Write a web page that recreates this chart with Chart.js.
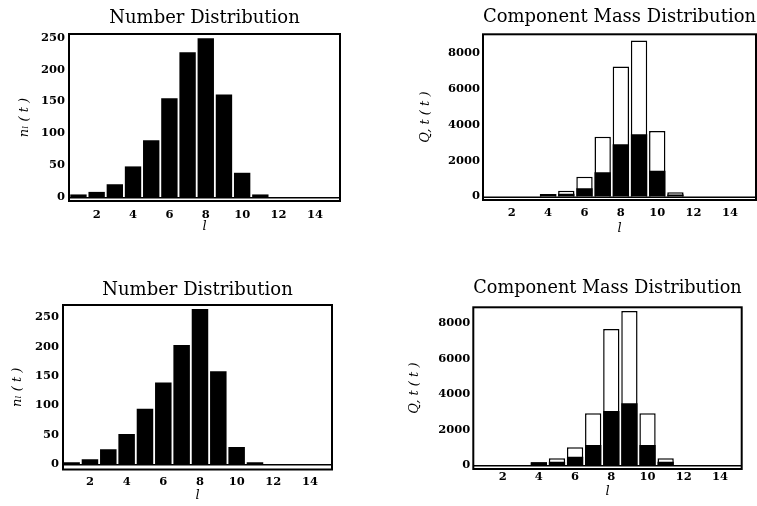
<!DOCTYPE html>
<html>
<head>
<meta charset="utf-8">
<script src="https://cdn.jsdelivr.net/npm/chart.js@4"></script>
<style>
  html, body { margin: 0; padding: 0; background: #fff; overflow: hidden; width: 757px; height: 506px; }
  canvas { position: absolute; }
</style>
</head>
<body>
<canvas id="numA"></canvas>
<canvas id="massA"></canvas>
<canvas id="numB"></canvas>
<canvas id="massB"></canvas>
<script>
// component size l
const sizes = [1, 2, 3, 4, 5, 6, 7, 8, 9, 10, 11, 12, 13, 14, 15];
const sizeTicks = [2, 4, 6, 8, 10, 12, 14];
const numberTicks = [0, 50, 100, 150, 200, 250];
const massTicks = [0, 2000, 4000, 6000, 8000];

// first run
const numberA    = [4, 8, 20, 48, 89, 155, 227, 249, 161, 38, 4, 0, 0, 0, 0];
const massTotalA = [0, 0, 0, 140, 323, 1100, 3330, 7240, 8690, 3650, 230, 0, 0, 0, 0];
const massInnerA = [0, 0, 0, 140, 150, 457, 1350, 2910, 3470, 1440, 110, 0, 0, 0, 0];

// second run
const numberB    = [3, 8, 25, 51, 94, 139, 203, 264, 158, 29, 3, 0, 0, 0, 0];
const massTotalB = [0, 0, 0, 150, 380, 1000, 2920, 7680, 8700, 2920, 380, 0, 0, 0, 0];
const massInnerB = [0, 0, 0, 150, 190, 470, 1130, 3050, 3490, 1130, 190, 0, 0, 0, 0];

const SERIF = 'DejaVu Serif';
const TITLE_SIZE = 18;
const TITLE_LH = TITLE_SIZE * 1.2;
const TICK_FONT = { family: SERIF, size: 11.5, weight: 'bold' };

// frame round the plot area + the zero line just above its bottom edge
const framePlugin = {
  id: 'frame',
  beforeDatasetsDraw(chart) {
    const { ctx, chartArea: a, scales: { y } } = chart;
    const zero = y.getPixelForValue(0);
    ctx.save();
    ctx.strokeStyle = '#000';
    ctx.lineWidth = 1.5;
    ctx.beginPath();
    ctx.moveTo(a.left, zero + 0.75);
    ctx.lineTo(a.right, zero + 0.75);
    ctx.stroke();
    ctx.restore();
  },
  afterDraw(chart) {
    const { ctx, chartArea: a } = chart;
    ctx.save();
    ctx.strokeStyle = '#000';
    ctx.lineWidth = 2;
    ctx.strokeRect(a.left, a.top, a.right - a.left, a.bottom - a.top);
    ctx.restore();
  }
};

const points = vals => sizes.map((l, i) => ({ x: l, y: vals[i] }));

function solidBars(vals) {
  return [{ data: points(vals), backgroundColor: '#000', borderWidth: 0 }];
}

function stackedOutline(total, inner) {
  return [
    { data: points(inner), backgroundColor: '#000', borderWidth: 0, order: 0, grouped: false },
    { data: points(total), backgroundColor: '#fff', borderColor: '#000', borderWidth: 1.5, order: 1, grouped: false }
  ];
}

// box: plot area edges plus centres of the title, y title and x title
function makePanel(id, box, title, yTitle, xRange, yRange, yTicks, datasets) {
  const cl = Math.round(box.yTitleX - 7.8);
  const cr = Math.ceil(box.r) + 2;
  const ct = Math.round(box.titleY - 4 - TITLE_LH / 2);
  const cb = Math.round(box.xTitleY + 8);
  const titleTop = box.titleY - TITLE_LH / 2 - ct;
  const titleBottom = box.t - ct - titleTop - TITLE_LH;

  const canvas = document.getElementById(id);
  canvas.width = cr - cl;
  canvas.height = cb - ct;
  canvas.style.left = cl + 'px';
  canvas.style.top = ct + 'px';

  return new Chart(canvas, {
    type: 'bar',
    data: { datasets },
    plugins: [framePlugin],
    options: {
      responsive: false,
      animation: false,
      devicePixelRatio: 1,
      barPercentage: 0.9,
      categoryPercentage: 1,
      layout: { padding: { left: 0, top: 0, right: cr - box.r, bottom: 0 } },
      plugins: {
        legend: { display: false },
        tooltip: { enabled: false },
        title: {
          display: true,
          text: title,
          fullSize: false,
          color: '#000',
          font: { family: SERIF, size: TITLE_SIZE, weight: 'normal' },
          padding: { top: titleTop, bottom: titleBottom }
        }
      },
      scales: {
        x: {
          type: 'linear',
          offset: false,
          min: xRange[0],
          max: xRange[1],
          afterBuildTicks: s => { s.ticks = sizeTicks.map(v => ({ value: v })); },
          afterFit: s => { s.height = cb - box.b; },
          grid: { display: false, drawTicks: false },
          border: { display: false },
          ticks: {
            autoSkip: false, maxRotation: 0, padding: box.xPad,
            color: '#000', font: TICK_FONT,
            callback: v => String(v)
          },
          title: {
            display: true, text: 'l', color: '#000',
            font: { family: SERIF, size: 13, style: 'italic' },
            padding: { top: 0, bottom: cb - 7.8 - box.xTitleY }
          }
        },
        y: {
          type: 'linear',
          min: yRange[0],
          max: yRange[1],
          afterBuildTicks: s => { s.ticks = yTicks.map(v => ({ value: v })); },
          afterFit: s => { s.width = box.l - cl; },
          grid: { display: false, drawTicks: false },
          border: { display: false },
          ticks: {
            autoSkip: false, padding: box.yPad,
            color: '#000', font: TICK_FONT,
            callback: v => String(v)
          },
          title: {
            display: true, text: yTitle, color: '#000',
            font: { family: SERIF, size: 13, style: 'italic' },
            padding: 0
          }
        }
      }
    }
  });
}

makePanel('numA',
  { l: 69, t: 34, r: 340, b: 201, yTitleX: 25, titleY: 18, xTitleY: 226.5, xPad: 7.5, yPad: 4 },
  'Number Distribution', 'nₗ ( t )', [0.48, 15.38], [-6.3, 255.8], numberTicks, solidBars(numberA));

makePanel('massA',
  { l: 483, t: 34.3, r: 756, b: 200, yTitleX: 426, titleY: 17.5, xTitleY: 229, xPad: 6, yPad: 3 },
  'Component Mass Distribution', 'Q, t ( t )', [0.42, 15.43], [-195, 9040], massTicks,
  stackedOutline(massTotalA, massInnerA));

makePanel('numB',
  { l: 63, t: 305, r: 332, b: 469.5, yTitleX: 18, titleY: 290, xTitleY: 496, xPad: 5.5, yPad: 4 },
  'Number Distribution', 'nₗ ( t )', [0.53, 15.2], [-9.4, 271], numberTicks, solidBars(numberB));

makePanel('massB',
  { l: 473.3, t: 307.3, r: 741.7, b: 469, yTitleX: 415, titleY: 288.5, xTitleY: 492, xPad: 1, yPad: 3 },
  'Component Mass Distribution', 'Q, t ( t )', [0.38, 15.2], [-226, 8910], massTicks,
  stackedOutline(massTotalB, massInnerB));
</script>
</body>
</html>
